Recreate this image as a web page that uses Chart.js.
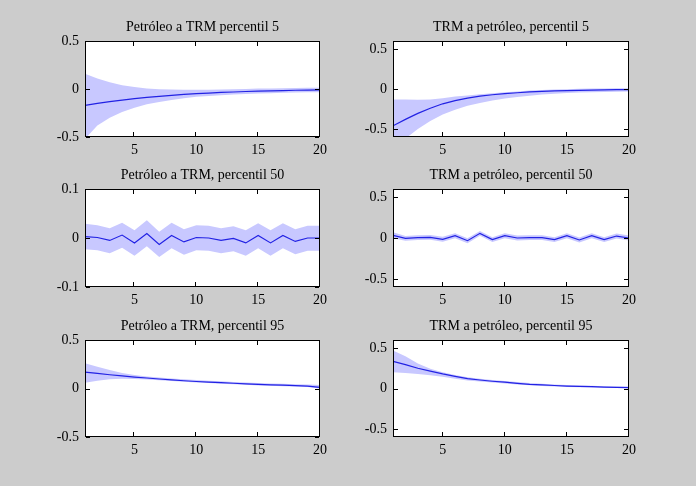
<!DOCTYPE html>
<html>
<head>
<meta charset="utf-8">
<script src="https://cdn.jsdelivr.net/npm/chart.js@4/dist/chart.umd.min.js"></script>
<style>
  body { margin: 0; background: #cccccc; width: 696px; height: 486px; overflow: hidden; position: relative; }
  canvas { position: absolute; }
</style>
</head>
<body>
<script>
// --- Data ---
const periods = [1, 2, 3, 4, 5, 6, 7, 8, 9, 10, 11, 12, 13, 14, 15, 16, 17, 18, 19, 20];
const xTicks = [5, 10, 15, 20];

// Petróleo a TRM, percentil 5
const oilTrm5 = [-0.17, -0.15, -0.132, -0.116, -0.1, -0.088, -0.076, -0.066, -0.057, -0.048, -0.042, -0.036, -0.031, -0.026, -0.022, -0.019, -0.016, -0.013, -0.011, -0.009];
const oilTrm5Hi = [0.16, 0.11, 0.07, 0.04, 0.02, 0.006, -0.002, -0.006, -0.008, -0.008, -0.007, -0.005, -0.002, 0.0, 0.004, 0.006, 0.008, 0.01, 0.012, 0.012];
const oilTrm5Lo = [-0.52, -0.38, -0.3, -0.24, -0.195, -0.16, -0.135, -0.115, -0.097, -0.082, -0.072, -0.065, -0.058, -0.052, -0.047, -0.043, -0.04, -0.037, -0.035, -0.033];

// TRM a petróleo, percentil 5
const trmOil5 = [-0.46, -0.38, -0.305, -0.24, -0.185, -0.145, -0.115, -0.09, -0.072, -0.058, -0.047, -0.037, -0.03, -0.024, -0.02, -0.016, -0.013, -0.011, -0.009, -0.008];
const trmOil5Hi = [-0.13, -0.13, -0.135, -0.13, -0.115, -0.095, -0.08, -0.065, -0.052, -0.04, -0.03, -0.02, -0.013, -0.007, -0.002, 0.002, 0.005, 0.007, 0.008, 0.01];
const trmOil5Lo = [-0.8, -0.62, -0.5, -0.4, -0.32, -0.26, -0.21, -0.175, -0.145, -0.12, -0.1, -0.083, -0.07, -0.058, -0.05, -0.044, -0.04, -0.036, -0.033, -0.03];

// Petróleo a TRM, percentil 50
const oilTrm50 = [0.003, 0.001, -0.005, 0.006, -0.01, 0.009, -0.013, 0.005, -0.008, 0.001, 0.0, -0.005, -0.001, -0.01, 0.005, -0.01, 0.005, -0.007, 0.0, 0.0];
const oilTrm50Hi = [0.029, 0.026, 0.02, 0.031, 0.016, 0.036, 0.013, 0.031, 0.018, 0.026, 0.025, 0.02, 0.024, 0.016, 0.03, 0.016, 0.03, 0.018, 0.025, 0.025];
const oilTrm50Lo = [-0.023, -0.025, -0.031, -0.02, -0.036, -0.017, -0.039, -0.021, -0.034, -0.025, -0.026, -0.031, -0.027, -0.036, -0.021, -0.036, -0.021, -0.033, -0.026, -0.026];

// TRM a petróleo, percentil 50
const trmOil50 = [0.033, -0.004, 0.004, 0.008, -0.016, 0.028, -0.033, 0.057, -0.02, 0.028, 0.0, 0.004, 0.004, -0.02, 0.028, -0.024, 0.028, -0.02, 0.024, 0.0];
const trmOil50Hi = [0.07, 0.026, 0.034, 0.038, 0.014, 0.058, -0.003, 0.087, 0.01, 0.058, 0.03, 0.034, 0.034, 0.01, 0.058, 0.006, 0.058, 0.01, 0.054, 0.03];
const trmOil50Lo = [-0.003, -0.034, -0.026, -0.022, -0.046, -0.002, -0.063, 0.027, -0.05, -0.002, -0.03, -0.026, -0.026, -0.05, -0.002, -0.054, -0.002, -0.05, -0.006, -0.03];

// Petróleo a TRM, percentil 95
const oilTrm95 = [0.168, 0.155, 0.142, 0.13, 0.118, 0.108, 0.098, 0.089, 0.08, 0.072, 0.066, 0.06, 0.054, 0.048, 0.042, 0.038, 0.034, 0.029, 0.025, 0.012];
const oilTrm95Hi = [0.26, 0.225, 0.19, 0.16, 0.14, 0.125, 0.113, 0.103, 0.095, 0.087, 0.08, 0.074, 0.068, 0.062, 0.057, 0.052, 0.048, 0.044, 0.04, 0.035];
const oilTrm95Lo = [0.06, 0.08, 0.095, 0.1, 0.098, 0.093, 0.086, 0.078, 0.07, 0.062, 0.056, 0.05, 0.044, 0.038, 0.032, 0.028, 0.024, 0.02, 0.016, 0.0];

// TRM a petróleo, percentil 95
const trmOil95 = [0.337, 0.296, 0.25, 0.214, 0.18, 0.15, 0.122, 0.105, 0.09, 0.078, 0.064, 0.052, 0.044, 0.037, 0.03, 0.026, 0.022, 0.018, 0.015, 0.012];
const trmOil95Hi = [0.47, 0.4, 0.31, 0.245, 0.2, 0.168, 0.14, 0.122, 0.106, 0.093, 0.079, 0.067, 0.058, 0.05, 0.043, 0.038, 0.033, 0.029, 0.026, 0.024];
const trmOil95Lo = [0.2, 0.193, 0.18, 0.165, 0.145, 0.122, 0.1, 0.086, 0.074, 0.063, 0.05, 0.04, 0.032, 0.025, 0.019, 0.015, 0.012, 0.009, 0.006, 0.004];

const titles = [
  'Petróleo a TRM percentil 5', 'TRM a petróleo, percentil 5',
  'Petróleo a TRM, percentil 50', 'TRM a petróleo, percentil 50',
  'Petróleo a TRM, percentil 95', 'TRM a petróleo, percentil 95'
];
const yLimits = [[-0.5, 0.5], [-0.6, 0.6], [-0.1, 0.1], [-0.6, 0.6], [-0.5, 0.5], [-0.6, 0.6]];
const yTickSets = [[-0.5, 0, 0.5], [-0.5, 0, 0.5], [-0.1, 0, 0.1], [-0.5, 0, 0.5], [-0.5, 0, 0.5], [-0.5, 0, 0.5]];

const series = [
  [oilTrm5, oilTrm5Hi, oilTrm5Lo], [trmOil5, trmOil5Hi, trmOil5Lo],
  [oilTrm50, oilTrm50Hi, oilTrm50Lo], [trmOil50, trmOil50Hi, trmOil50Lo],
  [oilTrm95, oilTrm95Hi, oilTrm95Lo], [trmOil95, trmOil95Hi, trmOil95Lo]
];

// --- Layout (plot boxes: left, top, right, bottom) ---
const colX = [[85, 320], [393, 629]];
const rowY = [[41, 137], [189, 287], [340, 437]];
const PAD_L = 55, PAD_R = 20, PAD_T = 30, PAD_B = 28;

Chart.defaults.font.family = "'Liberation Serif', 'Times New Roman', serif";
Chart.defaults.font.size = 14;
Chart.defaults.color = '#000';

// white plot area
const bgPlugin = {
  id: 'bgPlugin',
  beforeDatasetsDraw(chart) {
    const { ctx, chartArea: a } = chart;
    ctx.save();
    ctx.fillStyle = '#fff';
    ctx.fillRect(a.left, a.top, a.right - a.left, a.bottom - a.top);
    ctx.restore();
  }
};

// frame, inward ticks on all four sides (matlab style) and title
const boxPlugin = {
  id: 'boxPlugin',
  afterDraw(chart, args, opts) {
    const { ctx, chartArea: a, scales: { x, y } } = chart;
    const L = Math.round(a.left), R = Math.round(a.right);
    const T = Math.round(a.top), B = Math.round(a.bottom);
    ctx.save();
    ctx.fillStyle = '#000';
    ctx.fillRect(L, T, R - L, 1);
    ctx.fillRect(L, B - 1, R - L, 1);
    ctx.fillRect(L, T, 1, B - T);
    ctx.fillRect(R - 1, T, 1, B - T);
    x.ticks.forEach(t => {
      const px = Math.round(x.getPixelForValue(t.value));
      ctx.fillRect(px - 1, B - 5, 1, 4);
      ctx.fillRect(px - 1, T + 1, 1, 4);
    });
    y.ticks.forEach(t => {
      const py = Math.round(y.getPixelForValue(t.value));
      ctx.fillRect(L + 1, py, 4, 1);
      ctx.fillRect(R - 5, py, 4, 1);
    });
    ctx.font = "14px 'Liberation Serif', serif";
    ctx.textAlign = 'center';
    ctx.textBaseline = 'middle';
    ctx.fillText(opts.text, (a.left + a.right) / 2, a.top - 14);
    ctx.restore();
  }
};

series.forEach((s, i) => {
  const [mid, hi, lo] = s;
  const [L, R] = colX[i % 2];
  const [T, B] = rowY[Math.floor(i / 2)];
  const canvas = document.createElement('canvas');
  canvas.width = R - L + PAD_L + PAD_R;
  canvas.height = B - T + PAD_T + PAD_B;
  canvas.style.left = (L - PAD_L) + 'px';
  canvas.style.top = (T - PAD_T) + 'px';
  document.body.appendChild(canvas);

  const pts = arr => periods.map((p, k) => ({ x: p, y: arr[k] }));
  const yTicks = yTickSets[i];

  new Chart(canvas.getContext('2d'), {
    type: 'line',
    data: {
      datasets: [
        // line first so it is drawn on top of the band
        { data: pts(mid), borderColor: '#2222e4', backgroundColor: '#2222e4', borderWidth: 1.2, pointRadius: 0, fill: false, tension: 0 },
        { data: pts(lo), borderWidth: 0, borderColor: 'rgba(0,0,0,0)', pointRadius: 0, fill: false },
        { data: pts(hi), borderWidth: 0, borderColor: 'rgba(0,0,0,0)', pointRadius: 0, fill: '-1', backgroundColor: '#c8c8ff' }
      ]
    },
    options: {
      responsive: false,
      animation: false,
      devicePixelRatio: 1,
      layout: { padding: { left: 0, right: PAD_R, top: PAD_T, bottom: 0 } },
      plugins: {
        legend: { display: false },
        tooltip: { enabled: false },
        boxPlugin: { text: titles[i] }
      },
      scales: {
        x: {
          type: 'linear', min: 1, max: 20,
          grid: { display: false, drawTicks: false }, border: { display: false },
          afterBuildTicks: sc => { sc.ticks = xTicks.map(v => ({ value: v })); },
          afterFit: sc => { sc.height = PAD_B; },
          ticks: { padding: 5, maxRotation: 0, callback: v => String(v) }
        },
        y: {
          min: yLimits[i][0], max: yLimits[i][1],
          grid: { display: false, drawTicks: false }, border: { display: false },
          afterBuildTicks: sc => { sc.ticks = yTicks.map(v => ({ value: v })); },
          afterFit: sc => { sc.width = PAD_L; },
          ticks: { padding: 6, callback: v => String(v) }
        }
      }
    },
    plugins: [bgPlugin, boxPlugin]
  });
});
</script>
</body>
</html>
